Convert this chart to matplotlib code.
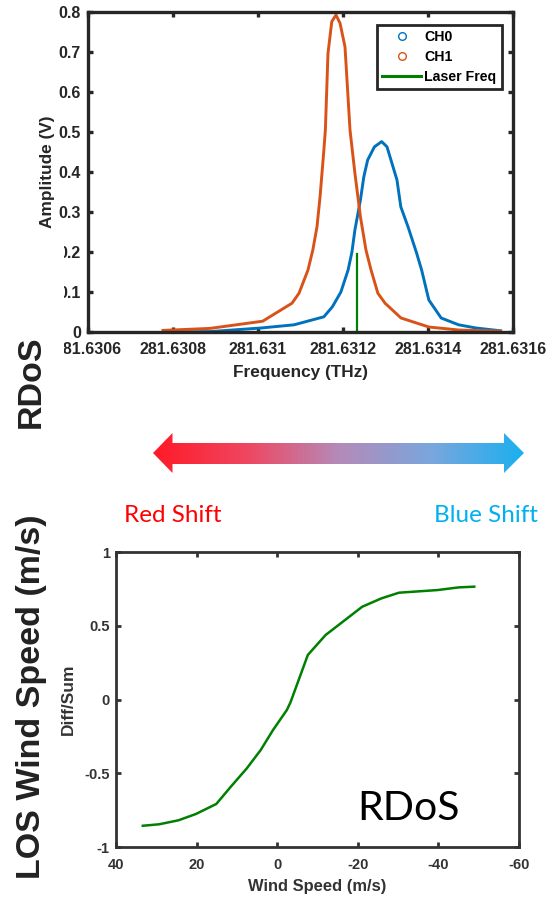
import numpy as np
import matplotlib
matplotlib.use("Agg")
import matplotlib.pyplot as plt
from matplotlib.lines import Line2D
from matplotlib.patches import Polygon, Rectangle
from matplotlib.colors import LinearSegmentedColormap
from matplotlib.ticker import FixedLocator, FuncFormatter

plt.rcParams["font.family"] = ["Liberation Sans", "DejaVu Sans"]
plt.rcParams["axes.unicode_minus"] = False

# ---- Filter transmission spectra (THz, V) ----
ch0_freq = [281.6307800, 281.6308870, 281.6310070, 281.6310850, 281.6311550,
            281.6311750, 281.6311950, 281.6312120, 281.6312210, 281.6312280,
            281.6312410, 281.6312490, 281.6312580, 281.6312740, 281.6312910,
            281.6313035, 281.6313270, 281.6313360, 281.6313530, 281.6313730,
            281.6313850, 281.6314020, 281.6314310, 281.6314720, 281.6315130,
            281.6315710]
ch0_amp = [0.000, 0.001, 0.010, 0.018, 0.038,
           0.063, 0.100, 0.155, 0.200, 0.255,
           0.330, 0.388, 0.430, 0.463, 0.476,
           0.463, 0.380, 0.313, 0.263, 0.198,
           0.155, 0.080, 0.035, 0.018, 0.010,
           0.003]

ch1_freq = [281.6307765, 281.6308870, 281.6310110, 281.6310800, 281.6310965,
            281.6311176, 281.6311290, 281.6311388, 281.6311460, 281.6311550,
            281.6311585, 281.6311647, 281.6311736, 281.6311835, 281.6311930,
            281.6312047, 281.6312165, 281.6312280, 281.6312410, 281.6312540,
            281.6312660, 281.6312820, 281.6312990, 281.6313365, 281.6314020,
            281.6314720, 281.6315706]
ch1_amp = [0.004, 0.009, 0.027, 0.072, 0.097,
           0.155, 0.205, 0.263, 0.338, 0.455,
           0.505, 0.697, 0.776, 0.7925, 0.772,
           0.713, 0.505, 0.397, 0.288, 0.205,
           0.155, 0.097, 0.072, 0.035, 0.0125,
           0.005, 0.002]

laser_freq = 281.6312330
laser_height = 0.195

freq_ticks = [281.6306, 281.6308, 281.6310, 281.6312, 281.6314, 281.6316]
amp_ticks = [0, 0.1, 0.2, 0.3, 0.4, 0.5, 0.6, 0.7, 0.8]

# ---- RDoS response curve ----
wind_speed = [33.35, 29.3, 24.5, 20.15, 15.1, 11.5, 7.55, 4.08, 1.04, -2.4,
              -3.3, -7.6, -12.0, -21.1, -25.9, -30.2, -39.8, -45.0, -48.9]
diff_sum = [-0.856, -0.846, -0.819, -0.776, -0.708, -0.591, -0.467, -0.342, -0.207, -0.071,
            -0.019, 0.302, 0.437, 0.629, 0.686, 0.724, 0.742, 0.760, 0.765]
wind_ticks = [40, 20, 0, -20, -40, -60]
ds_ticks = [-1, -0.5, 0, 0.5, 1]

C_CH0 = "#0072BD"
C_CH1 = "#D95319"
C_GREEN = "#008000"
AX_DARK = "#262626"

W, H = 548, 897
fig = plt.figure(figsize=(W / 100, H / 100), dpi=100)
fig.patch.set_facecolor("white")


def px_axes(left, top, right, bottom):
    return fig.add_axes([left / W, 1 - bottom / H, (right - left) / W, (bottom - top) / H])


def style_axes(ax, lw, tick_len, color, fsize):
    for s in ax.spines.values():
        s.set_linewidth(lw)
        s.set_color(color)
    ax.tick_params(direction="in", length=tick_len, width=lw, colors=color,
                   top=True, right=True, labelsize=fsize)
    for lab in ax.get_xticklabels() + ax.get_yticklabels():
        lab.set_fontweight("bold")


fmt_g = FuncFormatter(lambda v, p: "{:.7g}".format(v))

# ---- Top panel: spectra ----
ax1 = px_axes(88, 12, 513, 332)
ax1.plot(ch0_freq, ch0_amp, color=C_CH0, lw=2.1, solid_joinstyle="round")
ax1.plot(ch1_freq, ch1_amp, color=C_CH1, lw=2.1, solid_joinstyle="round")
ax1.plot([laser_freq, laser_freq], [0, laser_height], color=C_GREEN, lw=1.6)
ax1.set_xlim(freq_ticks[0], freq_ticks[-1])
ax1.set_ylim(0, 0.8)
ax1.xaxis.set_major_locator(FixedLocator(freq_ticks))
ax1.yaxis.set_major_locator(FixedLocator(amp_ticks))
ax1.xaxis.set_major_formatter(fmt_g)
ax1.yaxis.set_major_formatter(fmt_g)
style_axes(ax1, 2.4, 3.6, AX_DARK, 11.5)
ax1.tick_params(axis="x", pad=7.5)
ax1.tick_params(axis="y", pad=5)
ax1.set_xlabel("Frequency (THz)", fontsize=12.4, fontweight="bold", color=AX_DARK, labelpad=5.5)
ax1.set_ylabel("Amplitude (V)", fontsize=12.4, fontweight="bold", color=AX_DARK, labelpad=3)

handles = [
    Line2D([], [], ls="none", marker="o", mfc="none", mec=C_CH0, ms=5.5, mew=1.0),
    Line2D([], [], ls="none", marker="o", mfc="none", mec=C_CH1, ms=5.5, mew=1.0),
    Line2D([], [], color=C_GREEN, lw=2.2),
]
leg = ax1.legend(handles, ["CH0", "CH1", "Laser Freq"], loc="upper left",
                 bbox_to_anchor=(377 / W, 1 - 25 / H), bbox_transform=fig.transFigure,
                 borderaxespad=0, fancybox=False, framealpha=1, edgecolor=AX_DARK,
                 prop={"weight": "bold", "size": 10.2}, handlelength=2.7,
                 handletextpad=0.25, labelspacing=0.4, borderpad=0.38)
leg.get_frame().set_linewidth(2.0)
for t in leg.get_texts():
    t.set_color("black")

# ---- Bottom panel: Diff/Sum vs wind speed ----
ax2 = px_axes(116, 552, 519, 847)
ax2.plot(wind_speed, diff_sum, color=C_GREEN, lw=1.8)
ax2.set_xlim(40, -60)
ax2.set_ylim(-1, 1)
ax2.xaxis.set_major_locator(FixedLocator(wind_ticks))
ax2.yaxis.set_major_locator(FixedLocator(ds_ticks))
ax2.xaxis.set_major_formatter(fmt_g)
ax2.yaxis.set_major_formatter(fmt_g)
style_axes(ax2, 2.0, 3.4, "#333333", 10.5)
ax2.tick_params(axis="x", pad=8)
ax2.tick_params(axis="y", pad=4.5)
ax2.set_xlabel("Wind Speed (m/s)", fontsize=11.9, fontweight="bold", color="#333333", labelpad=5)
ax2.set_ylabel("Diff/Sum", fontsize=12.5, fontweight="bold", color="#333333", labelpad=6)

# ---- Overlay: annotations in pixel coordinates ----
ov = fig.add_axes([0, 0, 1, 1])
ov.set_zorder(10)
ov.patch.set_alpha(0)
ov.axis("off")

ov.add_patch(Rectangle((0, 240), 63.5, 125, facecolor="white", edgecolor="none"))

arrow_pts = [(153, 453), (172.5, 433), (172.5, 443), (504, 443), (504, 433),
             (524, 453), (504, 473), (504, 464), (172.5, 464), (172.5, 473)]
arrow = Polygon(arrow_pts, closed=True, facecolor="none", edgecolor="none")
ov.add_patch(arrow)
shift_cmap = LinearSegmentedColormap.from_list(
    "shift", [(0.0, "#FF1A27"), (0.25, "#F04660"), (0.5, "#B58AB8"),
              (0.75, "#7AA6DD"), (1.0, "#1BB0EF")])
grad = ov.imshow(np.linspace(0, 1, 512)[None, :], extent=(153, 524, 473, 433),
                 cmap=shift_cmap, aspect="auto", interpolation="bilinear")
grad.set_clip_path(arrow)

ov.text(173, 522.5, "Red Shift", color="#FF0000", fontsize=17.5, family="Lato",
        ha="center", va="baseline")
ov.text(486, 522.5, "Blue Shift", color="#00B0F0", fontsize=17.5, family="Lato",
        ha="center", va="baseline")
ov.text(357, 820, "RDoS", color="black", fontsize=29.5, family="Lato",
        ha="left", va="baseline")

ov.text(31, 382, "RDoS", color="#222222", fontsize=24.5, fontweight="bold",
        rotation=90, ha="center", va="center")
ov.text(32, 697, "LOS Wind Speed (m/s)", color="#222222", fontsize=24.5, fontweight="bold",
        rotation=90, ha="center", va="center")

ov.set_xlim(0, W)
ov.set_ylim(H, 0)

fig.savefig("out.png", dpi=100, facecolor="white")
